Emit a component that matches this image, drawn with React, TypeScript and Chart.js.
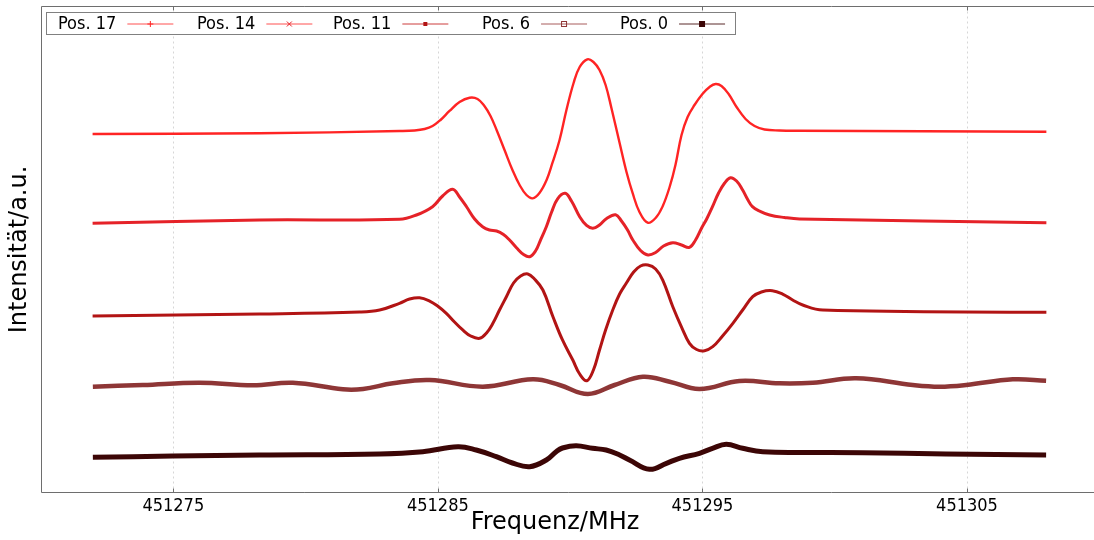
import React, { useEffect, useRef } from "react";
import { Chart, registerables } from "chart.js";

Chart.register(...registerables);

const FONT = "'DejaVu Sans Condensed', 'DejaVu Sans', sans-serif";
const TITLE_FONT = "'DejaVu Sans', sans-serif";

// ---- data ----
const seriesLabels = ["Pos. 17", "Pos. 14", "Pos. 11", "Pos. 6", "Pos. 0"];
const xTickValues = [451275, 451285, 451295, 451305];
const xTitle = "Frequenz/MHz";
const yTitle = "Intensität/a.u.";
const xMin = 451270;
const xMax = 451309.8;

const freq17 = [451271.95, 451278.26, 451283.55, 451284.12, 451284.5, 451284.8, 451285.1, 451285.44, 451285.82, 451286.2, 451286.5, 451286.76, 451286.99, 451287.22, 451287.52, 451287.82, 451288.09, 451288.35, 451288.58, 451288.84, 451289.11, 451289.33, 451289.6, 451289.86, 451290.13, 451290.36, 451290.65, 451290.88, 451291.11, 451291.34, 451291.56, 451291.87, 451292.13, 451292.36, 451292.62, 451292.93, 451293.23, 451293.49, 451293.76, 451293.98, 451294.21, 451294.44, 451294.7, 451295.0, 451295.27, 451295.5, 451295.72, 451295.99, 451296.29, 451296.63, 451296.97, 451297.35, 451297.91, 451298.67, 451308.0];
const int17 = [73.77, 73.91, 74.38, 74.49, 74.79, 75.41, 76.65, 78.5, 80.35, 81.23, 80.97, 79.53, 77.47, 74.59, 70.47, 66.36, 63.27, 61.21, 60.53, 61.63, 64.3, 67.8, 72.53, 78.7, 84.26, 87.55, 89.14, 88.58, 86.93, 83.85, 79.12, 71.91, 65.95, 61.63, 57.72, 55.51, 56.48, 58.81, 62.86, 67.39, 73.56, 77.26, 79.73, 82.0, 83.44, 84.05, 83.64, 82.0, 79.32, 76.85, 75.41, 74.69, 74.49, 74.44, 74.24];

const freq14 = [451271.95, 451278.26, 451283.55, 451284.19, 451284.8, 451285.18, 451285.56, 451285.82, 451286.09, 451286.39, 451286.69, 451286.95, 451287.22, 451287.48, 451287.71, 451287.98, 451288.24, 451288.47, 451288.69, 451288.88, 451289.1, 451289.3, 451289.52, 451289.81, 451290.05, 451290.36, 451290.62, 451290.86, 451291.11, 451291.38, 451291.72, 451291.94, 451292.17, 451292.37, 451292.66, 451292.94, 451293.23, 451293.53, 451293.88, 451294.21, 451294.51, 451294.74, 451294.97, 451295.16, 451295.38, 451295.61, 451295.84, 451296.06, 451296.29, 451296.52, 451296.7, 451296.89, 451297.16, 451297.54, 451298.1, 451298.67, 451308.0];
const int14 = [55.39, 56.07, 56.21, 57.1, 58.81, 61.01, 62.39, 60.8, 58.74, 56.28, 54.69, 54.01, 53.81, 53.09, 51.95, 50.31, 48.97, 48.52, 49.69, 51.95, 54.69, 57.72, 60.39, 61.56, 59.98, 56.75, 54.94, 54.36, 55.04, 56.38, 57.16, 55.86, 54.01, 51.95, 49.79, 48.87, 49.38, 50.72, 51.4, 50.93, 50.45, 51.95, 54.42, 56.28, 58.81, 61.63, 63.68, 64.77, 64.09, 62.24, 60.39, 58.81, 57.92, 57.1, 56.58, 56.28, 55.51];

const freq11 = [451271.95, 451278.26, 451282.04, 451282.8, 451283.55, 451283.93, 451284.31, 451284.69, 451284.99, 451285.32, 451285.63, 451285.94, 451286.24, 451286.58, 451286.84, 451287.08, 451287.33, 451287.59, 451287.86, 451288.13, 451288.4, 451288.65, 451288.97, 451289.35, 451289.71, 451290.1, 451290.36, 451290.63, 451290.88, 451291.11, 451291.34, 451291.61, 451291.87, 451292.12, 451292.4, 451292.66, 451292.94, 451293.23, 451293.5, 451293.88, 451294.21, 451294.51, 451294.78, 451295.08, 451295.39, 451295.76, 451296.15, 451296.52, 451296.9, 451297.23, 451297.64, 451298.03, 451298.41, 451298.79, 451299.55, 451308.0];
const int11 = [36.32, 36.73, 37.14, 37.55, 38.93, 39.81, 40.08, 39.4, 38.37, 36.87, 35.08, 33.44, 32.2, 31.73, 32.82, 34.81, 37.55, 40.29, 43.11, 44.55, 44.96, 43.93, 41.67, 36.17, 31.38, 27.26, 24.38, 23.0, 25.21, 29.32, 33.44, 37.55, 40.84, 43.05, 45.37, 46.6, 46.81, 45.99, 43.72, 38.23, 34.05, 30.7, 29.42, 29.18, 30.0, 32.2, 34.81, 37.55, 40.29, 41.26, 41.52, 40.84, 39.61, 38.58, 37.55, 37.08];

const freq6 = [451271.96, 451273.85, 451275.99, 451278.01, 451279.52, 451281.41, 451282.17, 451283.3, 451284.69, 451286.7, 451288.59, 451289.6, 451290.67, 451291.68, 451292.75, 451293.76, 451294.89, 451296.4, 451297.91, 451299.17, 451300.81, 451302.95, 451303.96, 451304.97, 451306.73, 451307.99];
const int6 = [21.77, 22.12, 22.59, 22.06, 22.59, 21.23, 21.3, 22.47, 23.15, 21.77, 23.29, 22.12, 20.27, 22.12, 23.83, 22.8, 21.3, 22.94, 22.47, 22.59, 23.5, 22.12, 21.77, 22.12, 23.29, 23.0];

const freq0 = [451271.96, 451274.98, 451278.26, 451282.8, 451284.43, 451285.76, 451286.45, 451287.21, 451287.82, 451288.47, 451289.1, 451289.47, 451289.71, 451290.23, 451290.85, 451291.36, 451291.87, 451292.24, 451293.0, 451293.64, 451294.13, 451294.89, 451295.38, 451295.9, 451296.52, 451297.28, 451301.06, 451304.21, 451307.99];
const int0 = [7.24, 7.51, 7.72, 7.92, 8.4, 9.42, 8.74, 7.37, 6.07, 5.31, 6.69, 8.4, 9.16, 9.63, 9.09, 8.74, 7.72, 6.69, 4.77, 6.01, 7.04, 8.07, 9.09, 9.92, 9.09, 8.4, 8.19, 7.92, 7.72];

const seriesFreq = [freq17, freq14, freq11, freq6, freq0];
const seriesInt = [int17, int14, int11, int6, int0];

// ---- styles ----
const seriesColors = ["#ff2424", "#e52228", "#b21414", "#8e3636", "#3c0606"];
const seriesWidths = [2.4, 3, 3, 4.5, 5];
const legendLineColors = ["#ff5050", "#ff5050", "#cc3c3c", "#a85c5c", "#5a2a2a"];
const legendMarkers = ["plus", "cross", "star", "openSquare", "square"];
const legendTextX = [58, 197, 333, 482, 620];

function drawMarker(ctx: CanvasRenderingContext2D, kind: string, x: number, y: number, color: string) {
  ctx.save();
  ctx.strokeStyle = color;
  ctx.fillStyle = color;
  ctx.lineWidth = 1;
  ctx.setLineDash([]);
  if (kind === "plus") {
    ctx.beginPath();
    ctx.moveTo(x - 3, y); ctx.lineTo(x + 3, y);
    ctx.moveTo(x, y - 3); ctx.lineTo(x, y + 3);
    ctx.stroke();
  } else if (kind === "cross") {
    ctx.beginPath();
    ctx.moveTo(x - 2.5, y - 2.5); ctx.lineTo(x + 2.5, y + 2.5);
    ctx.moveTo(x - 2.5, y + 2.5); ctx.lineTo(x + 2.5, y - 2.5);
    ctx.stroke();
  } else if (kind === "star") {
    ctx.fillRect(x - 2, y - 2, 4, 4);
  } else if (kind === "openSquare") {
    ctx.strokeRect(x - 2.5, y - 2.5, 5, 5);
  } else {
    ctx.fillRect(x - 3, y - 3, 6, 6);
  }
  ctx.restore();
}

const framePlugin = {
  id: "gnuframe",
  beforeDatasetsDraw(chart: any) {
    const { ctx, chartArea: a, scales } = chart;
    const x = scales.x;
    ctx.save();
    ctx.strokeStyle = "#d6d6d6";
    ctx.lineWidth = 1;
    ctx.setLineDash([2, 3]);
    for (const t of xTickValues) {
      const px = Math.round(x.getPixelForValue(t)) + 0.5;
      ctx.beginPath();
      ctx.moveTo(px, a.top);
      ctx.lineTo(px, a.bottom);
      ctx.stroke();
    }
    ctx.restore();
  },
  afterDraw(chart: any) {
    const { ctx, chartArea: a, scales } = chart;
    const x = scales.x;
    ctx.save();
    ctx.strokeStyle = "#6e6e6e";
    ctx.lineWidth = 1;
    ctx.setLineDash([]);
    const l = Math.round(a.left) + 0.5;
    const t = Math.floor(a.top) + 0.5;
    const b = Math.floor(a.bottom) + 0.5;
    ctx.beginPath();
    ctx.moveTo(a.right + 2, t); ctx.lineTo(l, t); ctx.lineTo(l, b); ctx.lineTo(a.right + 2, b);
    ctx.stroke();
    for (const v of xTickValues) {
      const px = Math.round(x.getPixelForValue(v)) + 0.5;
      ctx.beginPath();
      ctx.moveTo(px, b); ctx.lineTo(px, b - 4);
      ctx.moveTo(px, t); ctx.lineTo(px, t + 4);
      ctx.stroke();
    }
    // x axis title
    ctx.fillStyle = "#000000";
    ctx.font = `24px ${TITLE_FONT}`;
    ctx.textAlign = "center";
    ctx.textBaseline = "middle";
    ctx.fillText(xTitle, 555, 523);
    // legend box
    ctx.fillStyle = "#ffffff";
    ctx.fillRect(46.5, 12.5, 689, 22);
    ctx.strokeStyle = "#808080";
    ctx.strokeRect(46.5, 12.5, 689, 22);
    ctx.font = `18px ${FONT}`;
    ctx.textBaseline = "middle";
    ctx.textAlign = "left";
    const cy = 23.5;
    chart.data.datasets.forEach((ds: any, i: number) => {
      const tx = legendTextX[i];
      ctx.fillStyle = "#000000";
      ctx.fillText(ds.label, tx, cy + 1);
      const w = ctx.measureText(ds.label).width;
      const x0 = tx + w + 11;
      const x1 = x0 + 46;
      ctx.strokeStyle = legendLineColors[i];
      ctx.lineWidth = 1;
      ctx.beginPath();
      ctx.moveTo(x0, cy + 0.5);
      ctx.lineTo(x1, cy + 0.5);
      ctx.stroke();
      drawMarker(ctx, legendMarkers[i], (x0 + x1) / 2, cy + 0.5, seriesColors[i]);
    });
    ctx.restore();
  },
};

export default function App() {
  const ref = useRef<HTMLCanvasElement>(null);
  useEffect(() => {
    const canvas = ref.current!;
    const datasets = seriesLabels.map((label, i) => ({
      label,
      data: seriesFreq[i].map((f, j) => ({ x: f, y: seriesInt[i][j] })),
      borderColor: seriesColors[i],
      backgroundColor: seriesColors[i],
      borderWidth: seriesWidths[i],
      pointRadius: 0,
      fill: false,
      tension: 0.4,
    }));
    const chart = new Chart(canvas, {
      type: "line",
      data: { datasets },
      options: {
        animation: false,
        responsive: false,
        devicePixelRatio: 1,
        layout: { padding: { top: 6.5, left: 0, right: 0, bottom: 0 } },
        plugins: { legend: { display: false }, tooltip: { enabled: false } },
        scales: {
          x: {
            type: "linear",
            min: xMin,
            max: xMax,
            afterBuildTicks: (s: any) => {
              s.ticks = xTickValues.map((v) => ({ value: v }));
            },
            afterFit: (s: any) => {
              s.height = 47.5;
            },
            grid: { display: false, drawTicks: false },
            border: { display: false },
            ticks: {
              color: "#000",
              font: { family: FONT, size: 18 },
              padding: 3,
              maxRotation: 0,
              autoSkip: false,
              callback: (v: any) => String(v),
            },
            title: { display: false },
          },
          y: {
            min: 0,
            max: 100,
            afterFit: (s: any) => {
              s.width = 41;
            },
            grid: { display: false, drawTicks: false },
            border: { display: false },
            ticks: { display: false },
            title: {
              display: true,
              text: yTitle,
              color: "#000",
              font: { family: TITLE_FONT, size: 24 },
              padding: { top: 5, bottom: 0 },
            },
          },
        },
      },
      plugins: [framePlugin],
    });
    return () => chart.destroy();
  }, []);
  return (
    <div style={{ position: "fixed", left: 0, top: 0, width: 1094, height: 540, background: "#fff" }}>
      <canvas ref={ref} width={1094} height={540} style={{ display: "block" }} />
    </div>
  );
}
